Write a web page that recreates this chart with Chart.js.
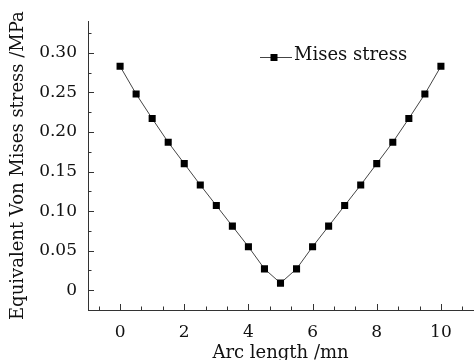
<!DOCTYPE html>
<html><head><meta charset="utf-8">
<script src="https://cdn.jsdelivr.net/npm/chart.js@4"></script>
<style>html,body{margin:0;padding:0;background:#fff;overflow:hidden}#wrap{width:478px;height:360px;position:relative}</style>
</head><body><div id="wrap"><canvas id="c"></canvas></div>
<script>
const arcLength = [0, 0.5, 1, 1.5, 2, 2.5, 3, 3.5, 4, 4.5, 5, 5.5, 6, 6.5, 7, 7.5, 8, 8.5, 9, 9.5, 10];
const misesStress = [0.283, 0.248, 0.217, 0.187, 0.160, 0.133, 0.107, 0.081, 0.055, 0.027, 0.009,
                     0.027, 0.055, 0.081, 0.107, 0.133, 0.160, 0.187, 0.217, 0.248, 0.283];
const seriesName = 'Mises stress';
const xMajorTicks = [0, 2, 4, 6, 8, 10];
const xMinorTicks = [-0.667, 0.667, 1.333, 2.667, 3.333, 4.667, 5.333, 6.667, 7.333, 8.667, 9.333, 10.667];
const yMajorTicks = [0, 0.05, 0.10, 0.15, 0.20, 0.25, 0.30];
const yMinorTicks = [0.025, 0.075, 0.125, 0.175, 0.225, 0.275, 0.325];
const xTitle = 'Arc length /mn';
const yTitle = 'Equivalent Von Mises stress /MPa';

const FONT = 'DejaVu Serif';
const INK = '#111';

const tickPlugin = {
  id: 'innerTicks',
  afterDraw(chart) {
    const ctx = chart.ctx, xs = chart.scales.x, ys = chart.scales.y;
    const left = chart.chartArea.left, bottom = chart.chartArea.bottom;
    ctx.save();
    ctx.strokeStyle = '#333';
    ctx.lineWidth = 1;
    ctx.beginPath();
    const xt = (v, len) => { const p = Math.round(xs.getPixelForValue(v)) + 0.5; ctx.moveTo(p, bottom); ctx.lineTo(p, bottom - len); };
    const yt = (v, len) => { const p = Math.round(ys.getPixelForValue(v)) + 0.5; ctx.moveTo(left, p); ctx.lineTo(left + len, p); };
    xMajorTicks.forEach(v => xt(v, 6));
    xMinorTicks.forEach(v => xt(v, 3.5));
    yMajorTicks.forEach(v => yt(v, 6));
    yMinorTicks.forEach(v => yt(v, 3.5));
    ctx.stroke();

    // legend
    const ly = 57;
    ctx.beginPath();
    ctx.strokeStyle = '#444';
    ctx.moveTo(260, ly + 0.5); ctx.lineTo(292, ly + 0.5);
    ctx.stroke();
    ctx.fillStyle = '#000';
    ctx.fillRect(274 - 3.5, ly - 3, 7, 7);
    ctx.fillStyle = INK;
    ctx.font = '18px "' + FONT + '"';
    ctx.textAlign = 'left';
    ctx.textBaseline = 'middle';
    ctx.fillText(seriesName, 294, ly - 2);
    ctx.restore();
  }
};

new Chart(document.getElementById('c'), {
  type: 'line',
  data: {
    datasets: [{
      label: seriesName,
      data: arcLength.map((x, i) => ({ x: x, y: misesStress[i] })),
      borderColor: '#444',
      borderWidth: 1,
      pointStyle: 'rect',
      pointRadius: 5,
      pointHoverRadius: 5,
      pointBackgroundColor: '#000',
      pointBorderColor: '#000',
      pointBorderWidth: 0,
      tension: 0,
      fill: false
    }]
  },
  options: {
    responsive: true,
    maintainAspectRatio: false,
    animation: false,
    layout: { padding: { top: 13, right: 0, left: 0, bottom: 0 } },
    plugins: { legend: { display: false }, tooltip: { enabled: false } },
    scales: {
      x: {
        type: 'linear', min: -1, max: 11,
        afterBuildTicks: s => { s.ticks = xMajorTicks.map(v => ({ value: v })); },
        afterFit: s => { s.height = 50; },
        grid: { display: false, drawTicks: false },
        border: { display: true, color: '#333', width: 1 },
        ticks: { color: INK, font: { family: FONT, size: 17 }, padding: 12, autoSkip: false, maxRotation: 0,
                 callback: v => String(v) },
        title: { display: true, text: xTitle, color: INK, font: { family: FONT, size: 18 }, padding: { top: 0, bottom: -4 } }
      },
      y: {
        type: 'linear', min: -0.025, max: 0.34,
        afterBuildTicks: s => { s.ticks = yMajorTicks.map(v => ({ value: v })); },
        afterFit: s => { s.width = 88; },
        grid: { display: false, drawTicks: false },
        border: { display: true, color: '#333', width: 1 },
        ticks: { color: INK, font: { family: FONT, size: 17 }, padding: 11, autoSkip: false,
                 callback: v => (v === 0 ? '0' : Number(v).toFixed(2)) },
        title: { display: true, text: yTitle, color: INK, font: { family: FONT, size: 18 }, padding: { top: 8, bottom: 0 } }
      }
    }
  },
  plugins: [tickPlugin]
});
</script>
</body></html>
